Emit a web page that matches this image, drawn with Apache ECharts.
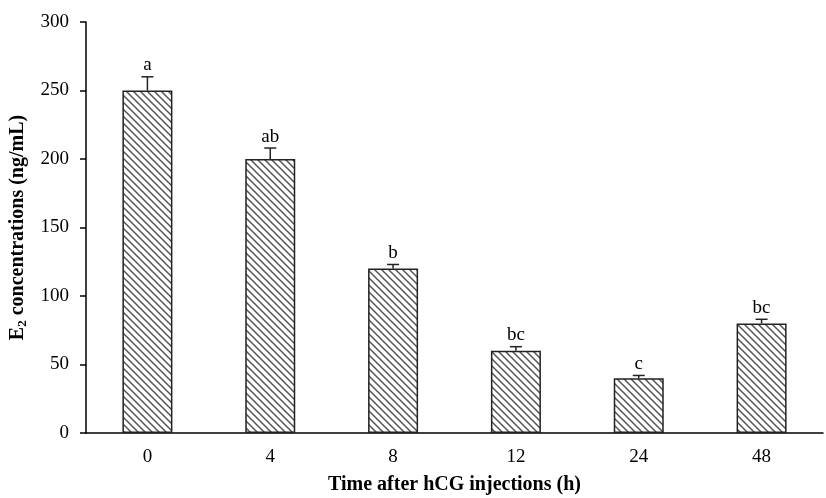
<!DOCTYPE html>
<html lang="en">
<head>
    <meta charset="UTF-8">
    <title>E2 concentrations</title>
    <script src="https://cdn.jsdelivr.net/npm/echarts@6/dist/echarts.min.js"></script>
    <style>
        html, body { margin: 0; padding: 0; background: #fff; }
        #main { width: 826px; height: 498px; }
    </style>
</head>
<body>
<div id="main"></div>
<script>
    var times = ['0', '4', '8', '12', '24', '48'];
    var conc = [250, 200, 120, 60, 40, 80];
    var errs = [10, 8, 3, 3, 2, 3];
    var letters = ['a', 'ab', 'b', 'bc', 'c', 'bc'];

    // hatch tile, lines running top-left to bottom-right
    function hatch() {
        var c = document.createElement('canvas');
        var s = 7;
        c.width = s; c.height = s;
        var ctx = c.getContext('2d');
        ctx.fillStyle = '#fff';
        ctx.fillRect(0, 0, s, s);
        ctx.strokeStyle = '#555';
        ctx.lineWidth = 1.5;
        ctx.beginPath();
        ctx.moveTo(-1, -1); ctx.lineTo(s + 1, s + 1);
        ctx.moveTo(-1, s - 1); ctx.lineTo(1, s + 1);
        ctx.moveTo(s - 1, -1); ctx.lineTo(s + 1, 1);
        ctx.stroke();
        return c;
    }

    var font = '"Liberation Serif", "Times New Roman", serif';
    var errData = conc.map(function (v, i) { return [i, v, v + errs[i], letters[i]]; });

    var myChart = echarts.init(document.getElementById('main'));
    var option = {
        animation: false,
        grid: { left: 86, right: 3, top: 22, bottom: 65, containLabel: false, outerBoundsMode: 'none' },
        xAxis: {
            type: 'category',
            data: times,
            name: 'Time after hCG injections (h)',
            nameLocation: 'middle',
            nameGap: 42,
            nameTextStyle: { fontFamily: font, fontSize: 20, fontWeight: 'bold', color: '#000' },
            axisLine: { lineStyle: { color: '#000', width: 1.5 } },
            axisTick: { show: false },
            axisLabel: { fontFamily: font, fontSize: 19, color: '#000', margin: 15 }
        },
        yAxis: {
            type: 'value',
            min: 0, max: 300, interval: 50,
            name: '{b|E}{s|2}{b| concentrations (ng/mL)}',
            nameLocation: 'middle',
            nameGap: 55,
            nameTextStyle: {
                rich: {
                    b: { fontFamily: font, fontSize: 20, fontWeight: 'bold', color: '#000' },
                    s: { fontFamily: font, fontSize: 13, fontWeight: 'bold', color: '#000', verticalAlign: 'bottom', padding: [0, 0, -2, 0] }
                }
            },
            splitLine: { show: false },
            axisLine: { show: true, lineStyle: { color: '#000', width: 1.5 } },
            axisTick: { show: true, length: 6, lineStyle: { color: '#000', width: 1.5 } },
            axisLabel: { fontFamily: font, fontSize: 19, color: '#000', margin: 17 }
        },
        series: [
            {
                type: 'bar',
                data: conc,
                barWidth: 50,
                itemStyle: {
                    color: { image: hatch(), repeat: 'repeat' },
                    borderColor: '#222',
                    borderWidth: 1.5
                }
            },
            {
                type: 'custom',
                data: errData,
                z: 5,
                renderItem: function (params, api) {
                    var x = api.value(0);
                    var p0 = api.coord([x, api.value(1)]);
                    var p1 = api.coord([x, api.value(2)]);
                    var half = 6;
                    return {
                        type: 'group',
                        children: [
                            { type: 'line', shape: { x1: p0[0], y1: p0[1], x2: p1[0], y2: p1[1] }, style: { stroke: '#222', lineWidth: 1.5 } },
                            { type: 'line', shape: { x1: p1[0] - half, y1: p1[1], x2: p1[0] + half, y2: p1[1] }, style: { stroke: '#222', lineWidth: 1.5 } },
                            { type: 'text', style: { text: api.value(3), x: p1[0], y: p1[1] - 2, align: 'center', verticalAlign: 'bottom', font: '19px ' + font, fill: '#000' } }
                        ]
                    };
                }
            }
        ]
    };
    myChart.setOption(option);
</script>
</body>
</html>
